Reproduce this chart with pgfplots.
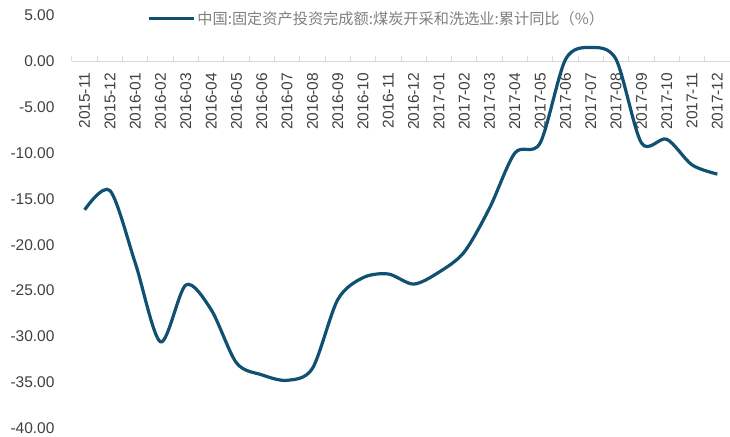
\documentclass[border=0pt]{standalone}
\usepackage{pgfplots}
\pgfplotsset{compat=1.18}
\usepackage{fontspec}
\setmainfont{Liberation Sans}
\newfontfamily\cjk{Noto Sans CJK SC}
\definecolor{linec}{HTML}{105070}
\definecolor{axisc}{HTML}{D9D9D9}
\definecolor{tickc}{HTML}{404040}
\definecolor{legc}{HTML}{808080}
\pgfplotstableread{
x y
0 -16.2
1 -14.1
2 -22.0
3 -30.6
4 -24.4
5 -27.1
6 -32.9
7 -34.2
8 -34.8
9 -33.5
10 -26.0
11 -23.6
12 -23.2
13 -24.3
14 -23.0
15 -20.8
16 -16.0
17 -10.0
18 -8.9
19 0.2
20 1.5
21 0.2
22 -8.9
23 -8.5
24 -11.3
25 -12.3
}\datatable
\begin{document}
\begin{tikzpicture}
\begin{axis}[
  name=ax,
  scale only axis,
  width=658pt, height=412.5pt,
  xmin=-0.5, xmax=25.5,
  ymin=-40, ymax=5,
  axis x line=middle,
  axis y line=left,
  y axis line style={draw=none},
  x axis line style={draw=axisc, line width=1pt, -},
  xtick={0,...,25},
  xticklabels={2015-11,2015-12,2016-01,2016-02,2016-03,2016-04,2016-05,2016-06,2016-07,2016-08,2016-09,2016-10,2016-11,2016-12,2017-01,2017-02,2017-03,2017-04,2017-05,2017-06,2017-07,2017-08,2017-09,2017-10,2017-11,2017-12},
  major x tick style={draw=none},
  minor xtick={-0.5,0.5,...,25.5},
  minor x tick style={draw=axisc, line width=1pt},
  minor tick length=5pt,
  tick align=inside,
  ytick={-40,-35,...,5},
  ytick style={draw=none},
  yticklabel style={font=\fontsize{15.5}{18}\selectfont, text=tickc, anchor=east, xshift=-14pt},
  xticklabel style={font=\fontsize{15.5}{18}\selectfont, text=tickc, yshift=-8pt, rotate=90, anchor=east},
  /pgf/number format/.cd, fixed, fixed zerofill, precision=2, assume math mode=true,
  /pgfplots/.cd,
  legend style={at={(0.114,0.993)}, anchor=west, draw=none, fill=none, inner sep=0pt,
    font=\cjk\fontsize{15.2}{18}\selectfont, text=legc},
  legend image code/.code={\draw[#1] (0pt,0pt) -- (45pt,0pt);},
  clip=false,
]
\addplot[linec, line width=3.2pt, smooth, tension=0.5] table[x=x,y=y] {\datatable};
\addlegendentry{中国:固定资产投资完成额:煤炭开采和洗选业:累计同比（\%）}
\end{axis}
\pgfresetboundingbox
\path ([xshift=-72pt,yshift=-8pt]ax.south west) rectangle ([yshift=15.5pt]ax.north east);
\end{tikzpicture}
\end{document}
